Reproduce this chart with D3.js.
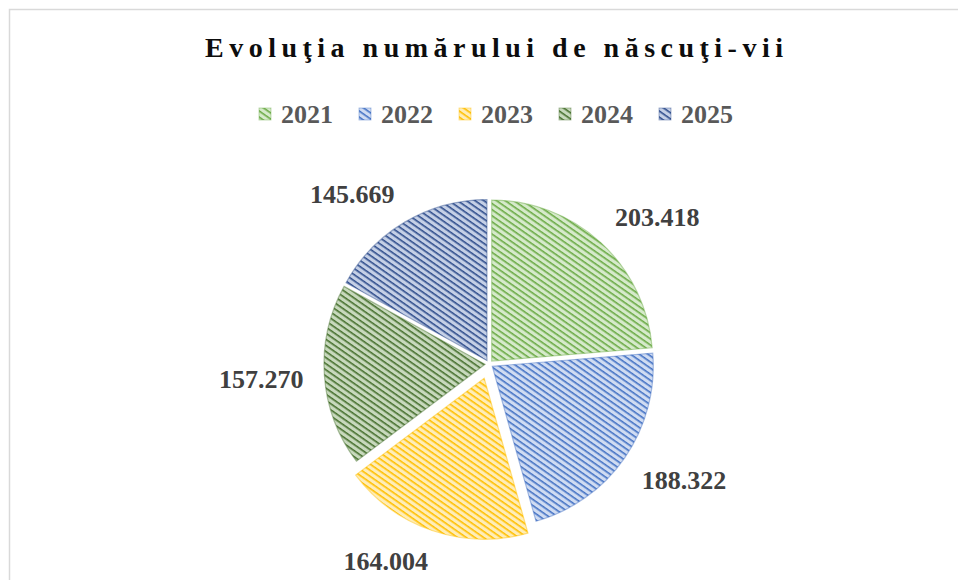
<!DOCTYPE html>
<html>
<head>
<meta charset="utf-8">
<script src="https://cdn.jsdelivr.net/npm/d3@7"></script>
<style>
  html, body { margin: 0; padding: 0; background: #fff; }
  svg { display: block; }
</style>
</head>
<body>
<div id="chart"></div>
<script>
const years = ['2021', '2022', '2023', '2024', '2025'];
const births = [203418, 188322, 164004, 157270, 145669];
const TITLE = 'Evoluţia numărului de născuţi-vii';

// stripe colour and light background colour for each slice
const STRIPE = ['#6aaa45', '#4472c4', '#ffbf00', '#46702e', '#2f4d8c'];
const BACK = ['#d6eacb', '#d0dcf2', '#ffedb8', '#c8d9bd', '#c5d0e6'];

const width = 958;
const height = 580;
const cx = 489;
const cy = 364;
const radius = 161;
const explode = 4;
const bigExplode = 15;  // 2023 is pulled further out
const labelGap = 21;

const fmt = d3.formatLocale({decimal: ',', thousands: '.', grouping: [3], currency: ['', '']}).format(',');

const svg = d3.select('#chart')
  .append('svg')
    .attr('width', width)
    .attr('height', height);

// stripe patterns
const defs = svg.append('defs');
years.forEach((y, i) => {
  const p = defs.append('pattern')
    .attr('id', `hatch-${i}`)
    .attr('patternUnits', 'userSpaceOnUse')
    .attr('width', 5)
    .attr('height', 5)
    .attr('patternTransform', 'rotate(35)');
  p.append('rect')
    .attr('width', 5).attr('height', 5)
    .attr('fill', BACK[i]);
  p.append('rect')
    .attr('y', 0)
    .attr('width', 5).attr('height', 1.6)
    .attr('fill', STRIPE[i]);
});

// chart frame
svg.append('rect')
  .attr('x', 9.5).attr('y', 9.5)
  .attr('width', width + 20).attr('height', height + 20)
  .attr('fill', 'none')
  .attr('stroke', '#d9d9d9')
  .attr('stroke-width', 1.5);

// title, spread to the width it has in the picture
const title = svg.append('text')
  .attr('x', 494)
  .attr('y', 57)
  .attr('text-anchor', 'middle')
  .attr('font-family', '"Liberation Serif", "DejaVu Serif", serif')
  .attr('font-weight', 'bold')
  .attr('font-size', 28)
  .attr('fill', '#0d0d0d')
  .text(TITLE);
const plainLen = title.node().getComputedTextLength();
const spacing = Math.max(0, (578 - plainLen) / (TITLE.length - 1));
title.attr('letter-spacing', spacing)
  .attr('x', 494 + spacing / 2);

// legend
const legendStep = 100;
const legend = svg.append('g')
  .attr('transform', `translate(${259}, 0)`);
const item = legend.selectAll('g')
  .data(years)
  .enter().append('g')
    .attr('transform', (d, i) => `translate(${i * legendStep}, 0)`);
item.append('rect')
  .attr('x', 0).attr('y', 108)
  .attr('width', 12).attr('height', 12)
  .attr('fill', (d, i) => `url(#hatch-${i})`)
  .attr('stroke', (d, i) => STRIPE[i])
  .attr('stroke-opacity', 0.5)
  .attr('stroke-width', 0.8);
item.append('text')
  .attr('x', 22).attr('y', 123)
  .attr('font-family', '"Liberation Serif", serif')
  .attr('font-weight', 'bold')
  .attr('font-size', 26)
  .attr('fill', '#595959')
  .text(d => d);

// pie
const pie = d3.pie().sort(null).value(d => d);
const arcs = pie(births);
const arc = d3.arc().innerRadius(0).outerRadius(radius);

arcs.forEach((a, i) => {
  const mid = (a.startAngle + a.endAngle) / 2;
  a.dx = Math.sin(mid);
  a.dy = -Math.cos(mid);
  a.off = years[i] === '2023' ? bigExplode : explode;
  a.px = cx + a.dx * a.off;
  a.py = cy + a.dy * a.off;
});

svg.append('g')
  .selectAll('path')
  .data(arcs)
  .enter().append('path')
    .attr('transform', d => `translate(${d.px},${d.py})`)
    .attr('d', arc)
    .attr('fill', (d, i) => `url(#hatch-${i})`)
    .attr('stroke', (d, i) => STRIPE[i])
    .attr('stroke-opacity', 0.45)
    .attr('stroke-width', 1.2);

// data labels, placed just outside the rim like Excel's outside end
const clamp = v => Math.max(-1, Math.min(1, v));
const labels = svg.append('g')
  .selectAll('text')
  .data(arcs)
  .enter().append('text')
    .attr('text-anchor', 'middle')
    .attr('font-family', '"Liberation Serif", serif')
    .attr('font-weight', 'bold')
    .attr('font-size', 26)
    .attr('fill', '#404040')
    .text(d => fmt(d.data));

labels.each(function(d) {
  const w = this.getComputedTextLength();
  const h = 20;
  const R = radius + labelGap;
  const x = d.px + d.dx * R + clamp(d.dx * 3) * w / 2;
  const y = d.py + d.dy * R + clamp(d.dy * 3) * h / 2;
  d3.select(this).attr('x', x).attr('y', y + 9);
});
</script>
</body>
</html>
